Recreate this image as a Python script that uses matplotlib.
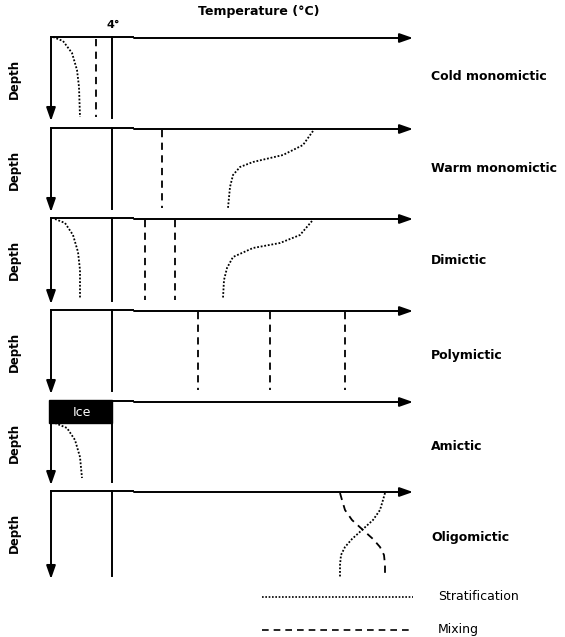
import matplotlib

matplotlib.use("Agg")

import matplotlib.pyplot as plt

# lake mixing types, each panel: top of the temperature axis and depth length
panel_names = ["Cold monomictic", "Warm monomictic", "Dimictic",
               "Polymictic", "Amictic", "Oligomictic"]
panel_tops = [37, 128, 218, 310, 401, 491]
panel_depths = [84, 84, 86, 84, 84, 88]
label_offsets = [39, 41, 43, 45, 45, 46]
depth_offset = 42

four_deg_x = 112
axis_left = 51
axis_right = 413

# mixing profiles (vertical dashed lines): temperature position per panel
mixing_x = {
    0: [96],
    1: [162],
    2: [145, 175],
    3: [198, 270, 345],
}

# stratification profiles (dotted): (temperature, depth below top)
strat_curves = {
    0: [([53, 63, 72, 77, 79, 80], [0, 4, 16, 33, 50, 80])],
    1: [([313, 303, 283, 253, 240, 233, 230, 228],
         [3, 17, 27, 34, 39, 47, 59, 80])],
    2: [([55, 65, 73, 78, 80, 80], [1, 5, 17, 34, 52, 80]),
        ([312, 300, 280, 253, 233, 227, 224, 223],
         [3, 17, 25, 30, 39, 50, 62, 80])],
    4: [([55, 67, 75, 80, 82], [22, 27, 39, 56, 77])],
    5: [([385, 383, 380, 373, 362, 352, 345, 341, 340, 340],
         [2, 9, 19, 29, 39, 48, 56, 64, 74, 86])],
}
# oligomictic mixing profile, crossing the stratified one
oligo_mix = ([340, 342, 345, 352, 363, 373, 380, 384, 385, 385],
             [2, 9, 19, 29, 39, 48, 56, 64, 74, 86])

ice_depth = 22

fig = plt.figure(figsize=(5.65, 6.37), dpi=100)
ax = fig.add_axes([0, 0, 1, 1])
ax.set_xlim(0, 565)
ax.set_ylim(637, 0)
ax.axis("off")

bold = dict(family="DejaVu Sans", fontweight="bold", color="black")
arrow = dict(arrowstyle="-|>,head_length=0.8,head_width=0.28", color="black",
             lw=1.4, shrinkA=0, shrinkB=0)

for i, top in enumerate(panel_tops):
    bottom = top + panel_depths[i]
    # temperature axis (small step after the 4 degree line)
    ax.plot([axis_left, 133], [top, top], color="black", lw=1.4)
    ax.annotate("", xy=(axis_right, top + 1), xytext=(134, top + 1), arrowprops=arrow)
    # depth axis
    ax.annotate("", xy=(axis_left, bottom), xytext=(axis_left, top), arrowprops=arrow)
    # 4 degree line
    ax.plot([four_deg_x, four_deg_x], [top, bottom - 3], color="black", lw=1.4)

    for x in mixing_x.get(i, []):
        ax.plot([x, x], [top + 2, bottom - 4], color="black", lw=1.3,
                linestyle=(0, (4, 3)))
    for xs, ds in strat_curves.get(i, []):
        ax.plot(xs, [top + d for d in ds], color="black", lw=1.3,
                linestyle=(0, (1, 1)))

    ax.text(14, top + depth_offset, "Depth", rotation=90, ha="center",
            va="center", fontsize=8.5, **bold)
    ax.text(431, top + label_offsets[i], panel_names[i], ha="left",
            va="center", fontsize=9, **bold)

# oligomictic mixing curve
ax.plot(oligo_mix[0], [panel_tops[5] + d for d in oligo_mix[1]], color="black",
        lw=1.3, linestyle=(0, (4, 3)))

# ice cover on the amictic lake
ax.add_patch(plt.Rectangle((49, panel_tops[4] - 1), four_deg_x - 49, ice_depth + 1,
                           color="black", zorder=3))
ax.text(82, panel_tops[4] + ice_depth / 2, "Ice", color="white", ha="center",
        va="center", fontsize=9, family="DejaVu Sans", zorder=4)

ax.text(259, 12, "Temperature (°C)", ha="center", va="center", fontsize=9, **bold)
ax.text(113, 25, "4°", ha="center", va="center", fontsize=8, **bold)

# legend
ax.plot([262, 413], [597, 597], color="black", lw=1.2, linestyle=(0, (1, 1)))
ax.text(438, 597, "Stratification", ha="left", va="center", fontsize=9,
        family="DejaVu Sans")
ax.plot([262, 413], [630, 630], color="black", lw=1.2, linestyle=(0, (4, 3)))
ax.text(438, 630, "Mixing", ha="left", va="center", fontsize=9,
        family="DejaVu Sans")

fig.savefig("out.png", dpi=100)
